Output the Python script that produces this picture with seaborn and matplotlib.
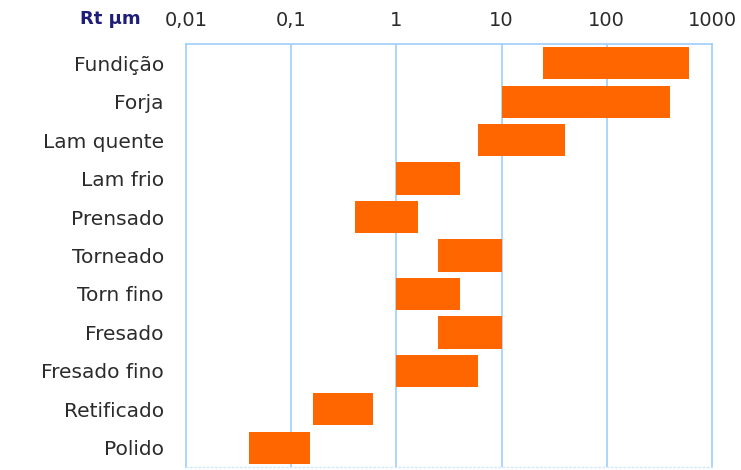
import matplotlib
matplotlib.use("Agg")
import matplotlib.pyplot as plt
import matplotlib.ticker as mticker
import seaborn as sns
import pandas as pd

# Surface roughness ranges (Rt, µm) by manufacturing process
processos = ["Fundição", "Forja", "Lam quente", "Lam frio", "Prensado", "Torneado",
             "Torn fino", "Fresado", "Fresado fino", "Retificado", "Polido"]
rt_min = [25, 10, 6, 1, 0.4, 2.5, 1, 2.5, 1, 0.16, 0.04]
rt_max = [600, 400, 40, 4, 1.6, 10, 4, 10, 6, 0.6, 0.15]
ticks = [0.01, 0.1, 1, 10, 100, 1000]
tick_labels = ["0,01", "0,1", "1", "10", "100", "1000"]

df = pd.DataFrame({"processo": processos, "min": rt_min, "max": rt_max})

sns.set_style("white")
plt.rcParams["font.family"] = ["DejaVu Sans"]

fig = plt.figure(figsize=(7.41, 4.70), dpi=100)
ax = fig.add_axes([186 / 741, 3 / 470, 526 / 741, 423 / 470])

grid_col = "#a0cdfa"
bar_col = "#ff6600"
text_col = "#2b2b2b"

ypos = list(range(len(df)))
ax.barh(ypos, df["max"] - df["min"], left=df["min"], height=0.84,
        color=bar_col, edgecolor="none", zorder=3)

ax.set_xscale("log")
ax.set_xlim(0.01, 1000)
ax.set_ylim(len(df) - 0.5, -0.5)
ax.set_yticks(ypos)
ax.set_yticklabels(df["processo"], fontsize=14.5, color=text_col)

ax.xaxis.set_major_locator(mticker.FixedLocator(ticks))
ax.xaxis.set_minor_locator(mticker.NullLocator())
ax.set_xticks(ticks)
ax.set_xticklabels(tick_labels, fontsize=14, color=text_col)
ax.xaxis.tick_top()
ax.tick_params(axis="both", length=0)
ax.tick_params(axis="x", pad=10)
ax.tick_params(axis="y", pad=16)

for t in ticks[1:-1]:
    ax.axvline(t, color=grid_col, lw=1.2, zorder=1)

for side in ["top", "left", "right"]:
    ax.spines[side].set_color(grid_col)
    ax.spines[side].set_linewidth(1.2)
ax.spines["bottom"].set_color("#d0e8fc")
ax.spines["bottom"].set_linewidth(1.0)
ax.spines["bottom"].set_linestyle((0, (1, 2)))

fig.text(141 / 741, 1 - 19 / 470, "Rt µm", ha="right", va="center",
         fontsize=13, color="#1e1e7a", fontweight="bold")

fig.savefig("out.png", dpi=100)
